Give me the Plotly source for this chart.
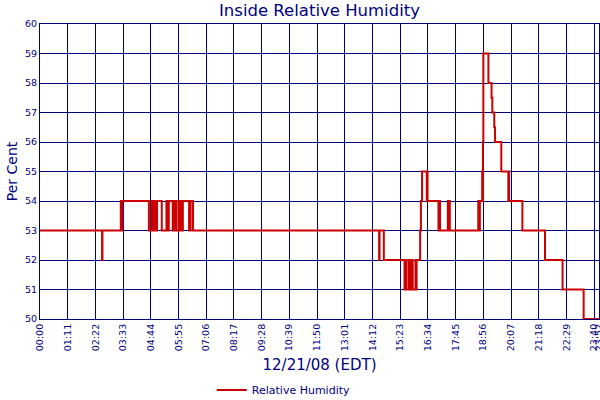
import pandas as pd
import plotly.graph_objs as go

day = "2008-12-21 "

# readings (time of change, per cent)
times = ["00:00", "02:39", "02:40", "03:27", "03:28", "03:31", "04:39", "04:46", "04:47", "04:48",
         "04:50", "04:51", "04:53", "04:54", "04:56", "04:57", "04:59", "05:00", "05:12", "05:24",
         "05:26", "05:27", "05:29", "05:30", "05:40", "05:41", "05:45", "05:46", "05:47", "05:49",
         "05:50", "05:56", "05:58", "05:59", "06:01", "06:02", "06:04", "06:06", "06:22", "06:23",
         "06:24", "06:26", "06:32", "14:29", "14:30", "14:41", "15:34", "15:35", "15:36", "15:37",
         "15:39", "15:45", "15:47", "15:48", "15:52", "15:53", "15:55", "16:02", "16:04", "16:05",
         "16:14", "16:16", "16:19", "16:31", "16:32", "16:33", "17:01", "17:02", "17:03", "17:04",
         "17:05", "17:25", "17:26", "17:28", "17:30", "18:43", "18:44", "18:45", "18:46", "18:47",
         "18:53", "18:54", "18:55", "18:56", "19:09", "19:17", "19:19", "19:24", "19:26", "19:42",
         "20:00", "20:01", "20:02", "20:36", "21:34", "22:19", "23:13", "23:52"]
humidity = [53, 52, 53, 54, 53, 54, 53, 54, 53, 54,
            53, 54, 53, 54, 53, 54, 53, 54, 53, 54,
            53, 54, 53, 54, 53, 54, 53, 54, 53, 54,
            53, 54, 53, 54, 53, 54, 53, 54, 53, 54,
            53, 54, 53, 52, 53, 52, 51, 52, 51, 52,
            51, 52, 51, 52, 51, 52, 51, 52, 51, 52,
            53, 54, 55, 54, 55, 54, 53, 54, 53, 54,
            53, 54, 53, 54, 53, 54, 53, 54, 53, 54,
            55, 54, 56, 59, 58, 57.5, 57, 56.5, 56, 55,
            54, 55, 54, 53, 52, 51, 50, 50]

tick_labels = ["00:00", "01:11", "02:22", "03:33", "04:44", "05:55", "07:06", "08:17", "09:28",
               "10:39", "11:50", "13:01", "14:12", "15:23", "16:34", "17:45", "18:56", "20:07",
               "21:18", "22:29", "23:40", "23:52"]

navy = "#000080"
x_vals = pd.to_datetime([day + t for t in times])
tick_vals = pd.to_datetime([day + t for t in tick_labels])

trace = go.Scatter(x=x_vals, y=humidity, mode='lines', name='Relative Humidity',
                   line=dict(color='#CC0000', width=2, shape='hv'))

layout = go.Layout(
    width=600, height=400,
    margin=dict(l=40, r=1, t=24, b=81),
    paper_bgcolor='white', plot_bgcolor='white',
    font=dict(family='DejaVu Sans', color=navy, size=9.5),
    title=dict(text='Inside Relative Humidity', x=0.5325, xanchor='center', y=0.975, yanchor='middle',
               font=dict(size=16.5, color=navy)),
    xaxis=dict(range=[tick_vals[0], tick_vals[-1] + pd.Timedelta(seconds=20)], tickmode='array',
               tickvals=tick_vals, ticktext=tick_labels, tickangle=-90, ticklabeloverflow='allow',
               showgrid=True, gridcolor=navy, gridwidth=1,
               showline=True, linecolor=navy, mirror=True, zeroline=False, automargin=False,
               title=dict(text='12/21/08 (EDT)', font=dict(size=15, color=navy), standoff=9)),
    yaxis=dict(range=[50, 60], dtick=1, showgrid=True, gridcolor=navy, gridwidth=1,
               showline=True, linecolor=navy, mirror=True, zeroline=False, automargin=False,
               title=dict(text='Per Cent', font=dict(size=14, color=navy), standoff=4)),
    showlegend=True,
    legend=dict(orientation='h', xref='container', yref='container', x=0.353, xanchor='left',
                y=0.025, yanchor='middle', font=dict(size=11, color=navy), itemwidth=30),
)

fig = go.Figure(data=[trace], layout=layout)
fig.write_html("out.html", config={'displayModeBar': False},
               post_script="document.body.style.margin='0';")
